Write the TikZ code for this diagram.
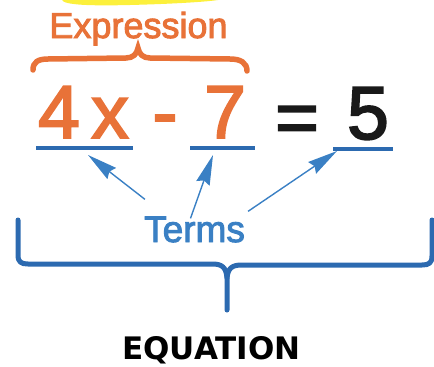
\documentclass[tikz,border=0pt]{standalone}
\usepackage{fontspec}
\setmainfont{Liberation Sans}
\newfontfamily\semifont{Liberation Sans}[FakeBold=2.5]
\newfontfamily\labelfont{DejaVu Sans}
\usetikzlibrary{arrows.meta}

\definecolor{exprorange}{RGB}{232,114,56}
\definecolor{termblue}{RGB}{58,128,196}
\definecolor{braceblue}{RGB}{44,106,176}
\definecolor{marker}{RGB}{252,240,60}

\begin{document}
\begin{tikzpicture}[x=1pt,y=-1pt,>=Stealth,
    big/.style={inner sep=0,anchor=base,font=\semifont\fontsize{75}{80}\selectfont},
    uline/.style={line width=3.5pt,braceblue},
    termarrow/.style={-{Stealth[length=30pt,width=14pt,inset=3pt]},line width=1.4pt,termblue}]
  \useasboundingbox (0,0) rectangle (434,367);
  % highlighter stroke at the top
  \fill[marker] (62,0) .. controls (64,5) and (90,6) .. (130,5)
    .. controls (170,4) and (205,2) .. (218,0) -- cycle;

  \node[inner sep=0,anchor=base,exprorange,font=\semifont\fontsize{36}{40}\selectfont]
    (expr) at (138.5,38) {Expression};
  \draw[exprorange,line width=5.5pt,line cap=round] (33,70)
    .. controls (33,62) and (38,59) .. (48,59) -- (126,58)
    .. controls (133,58) and (137,54) .. (138,48)
    .. controls (139,54) and (143,58) .. (150,58) -- (230,59)
    .. controls (241,59) and (247,63) .. (247,71);

  % the equation
  \node[big,exprorange] (four) at (59,138) {4};
  \node[big,exprorange] (ex) at (110,138) {x};
  \node[big,exprorange] (minus) at (165,138) {-};
  \node[big,exprorange] (seven) at (225,138) {7};
  \node[big,black!90] (equals) at (297,143) {=};
  \node[big,black!90] (five) at (368,139) {5};

  \draw[uline] (36,148) -- (133,148);
  \draw[uline] (190,148) -- (255,148);
  \draw[uline] (333,149) -- (393,149);

  \coordinate (tipA) at (88,155);
  \coordinate (tipB) at (213,155);
  \coordinate (tipC) at (337,151);

  \node[inner sep=0,anchor=base,termblue,font=\semifont\fontsize{37}{40}\selectfont]
    (terms) at (194.5,242) {Terms};
  \draw[termarrow] ([shift={(1,-17)}]terms.north west) -- (tipA);
  \draw[termarrow] ([shift={(-4,2)}]terms.north) -- (tipB);
  \draw[termarrow] ([shift={(3,-5)}]terms.north east) -- (tipC);

  % big brace
  \draw[braceblue,line width=5pt,line cap=round,line join=round] (18,220) -- (18,255)
    .. controls (18,262) and (21,264) .. (28,264) -- (212,264)
    .. controls (222,264) and (226,267) .. (227,278) -- (227,310);
  \draw[braceblue,line width=5pt,line cap=round,line join=round] (432,220) -- (432,256)
    .. controls (432,263) and (429,265) .. (422,265) -- (242,265)
    .. controls (232,265) and (228,268) .. (227,278);

  \node[inner sep=0,anchor=base,font=\labelfont\bfseries\fontsize{31}{34}\selectfont]
    (eqn) at (211.5,359) {EQUATION};
\end{tikzpicture}
\end{document}
